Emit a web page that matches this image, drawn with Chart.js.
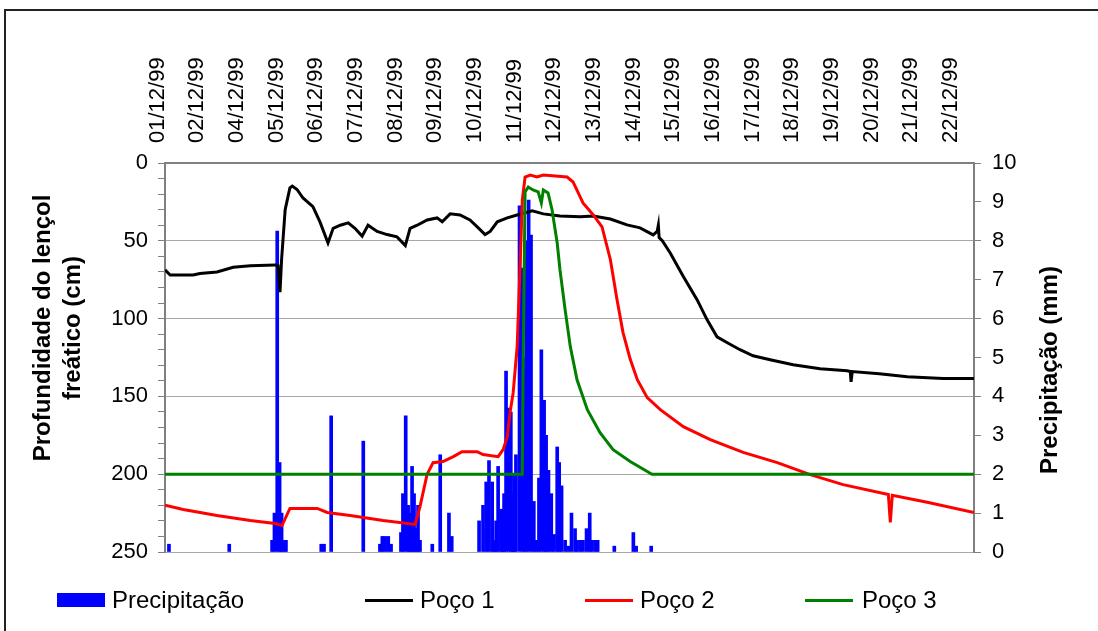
<!DOCTYPE html>
<html lang="pt">
<head>
  <meta charset="UTF-8" />
  <title>Profundidade do lençol freático e precipitação</title>
  <script src="https://cdn.jsdelivr.net/npm/chart.js"></script>
  <style>
    body {
      margin: 0;
      background: #fff;
      font-family: 'Liberation Sans', Arial, sans-serif;
    }
    .wrap {
      position: relative;
      width: 1098px;
      height: 631px;
      overflow: hidden;
    }
    .frame {
      position: absolute;
      left: 4px;
      top: 9px;
      width: 1200px;
      height: 800px;
      border-left: 2px solid #222;
      border-top: 2px solid #222;
    }
    canvas { position: absolute; left: 0; top: 0; }
    .legend span { position: absolute; }
    .legend .txt {
      top: 588px;
      font-size: 24px;
      line-height: 24px;
      color: #000;
    }
    .legend .box { top: 593px; width: 48px; height: 14px; background: #0000ff; }
    .legend .ln { top: 599px; width: 48px; height: 3px; }
  </style>
</head>
<body>
<div class="wrap">
  <div class="frame"></div>
  <canvas id="chart" width="1098" height="631"></canvas>
  <div class="legend">
    <span class="box" style="left:57px"></span>
    <span class="txt" style="left:112px">Precipitação</span>
    <span class="ln" style="left:365px;background:#000"></span>
    <span class="txt" style="left:420px">Poço 1</span>
    <span class="ln" style="left:585px;background:#ff0000"></span>
    <span class="txt" style="left:640px">Poço 2</span>
    <span class="ln" style="left:805px;background:#008000"></span>
    <span class="txt" style="left:862px">Poço 3</span>
  </div>
</div>

<script>
  // top axis labels (one per day slot, 03/12 is not labelled in the original)
  const dateLabels = ['01/12/99', '02/12/99', '04/12/99', '05/12/99', '06/12/99', '07/12/99',
    '08/12/99', '09/12/99', '10/12/99', '11/12/99', '12/12/99', '13/12/99', '14/12/99',
    '15/12/99', '16/12/99', '17/12/99', '18/12/99', '19/12/99', '20/12/99', '21/12/99', '22/12/99'];

  // x is in label slots (0 = 01/12/99)
  const poco1X = [0.20, 0.33, 0.91, 1.08, 1.51, 1.92, 2.35, 2.98, 3.05, 3.10, 3.14, 3.23, 3.35, 3.41,
    3.53, 3.68, 3.93, 4.11, 4.31, 4.44, 4.62, 4.82, 4.99, 5.17, 5.32, 5.55, 5.80, 6.05, 6.26, 6.38,
    6.56, 6.81, 7.06, 7.19, 7.39, 7.64, 7.89, 8.10, 8.27, 8.40, 8.58, 8.83, 9.08, 9.46, 9.74, 10.16,
    10.67, 11.00, 11.43, 11.85, 12.18, 12.51, 12.61, 12.64, 12.66, 12.74, 12.94, 13.27, 13.62, 13.87,
    14.12, 14.38, 14.70, 15.03, 15.46, 16.04, 16.72, 17.40, 17.48, 17.50, 17.53, 18.21, 18.92, 19.82, 20.60];
  const poco1Y = [68.7, 72, 72, 71, 70, 67, 66, 65.5, 66, 83, 62, 30, 16, 14.8,
    17, 22.5, 28, 38, 51.4, 42, 40, 38.5, 42, 47, 40, 44, 46, 47.5, 53, 42,
    40, 36.6, 35.3, 37.8, 32.7, 33.4, 36.6, 41.7, 46, 44, 37.8, 35.3, 33.4, 30.8, 32.7, 34,
    34.5, 34, 36, 39.8, 41.7, 46.2, 44, 40, 48, 50, 57.8, 73, 88, 100.8,
    111.7, 115.5, 120, 123.9, 126.4, 129.6, 132.2, 133.5, 134, 140.6, 134, 135.4, 137.3, 138.5, 138.5];

  const poco2X = [0.20, 0.66, 1.51, 2.35, 2.98, 3.15, 3.35, 4.04, 4.29, 4.87, 5.70, 6.51, 6.63, 6.81,
    6.96, 7.21, 7.47, 7.69, 8.07, 8.22, 8.60, 8.73, 8.83, 8.90, 8.98, 9.08, 9.16, 9.21, 9.28, 9.41,
    9.58, 9.74, 10.34, 10.49, 10.74, 11.00, 11.22, 11.43, 11.60, 11.75, 11.93, 12.11, 12.36, 12.69,
    13.27, 13.95, 14.78, 15.64, 16.47, 17.30, 18.44, 18.49, 18.54, 19.42, 20.60];
  const poco2Y = [220, 222.7, 226.6, 229.8, 231.7, 233, 222, 222, 224.6, 226.6, 229.8, 232.3, 220.8, 200,
    192.6, 191.9, 188.7, 185.5, 185.5, 187.4, 188.7, 184, 176, 160.5, 147.6, 118, 62, 23.7, 9, 7.7,
    9, 7.7, 9, 12.2, 25.7, 33.4, 41, 62, 88, 109, 126, 139.3, 150.8, 158.5,
    169.4, 177.8, 186, 192.6, 200.3, 206.7, 213, 231, 213.5, 218, 224.6];

  const poco3X = [0.20, 9.21, 9.23, 9.28, 9.36, 9.48, 9.61, 9.69, 9.74, 9.86, 9.96, 10.09, 10.16,
    10.29, 10.42, 10.59, 10.85, 11.17, 11.50, 11.93, 12.48, 20.60];
  const poco3Y = [200, 200, 130, 18.6, 15.4, 17.3, 18.6, 25.7, 17.3, 19.3, 30, 51.4, 68.7,
    94.4, 118, 139.3, 158.5, 173.3, 184.2, 191.9, 200, 200];

  const precipX = [0.30, 1.82, 2.90, 2.96, 3.03, 3.09, 3.14, 3.20, 3.25, 4.14, 4.21, 4.39, 5.20, 5.62,
    5.68, 5.75, 5.83, 5.90, 6.15, 6.20, 6.27, 6.33, 6.38, 6.43, 6.48, 6.53, 6.58, 6.63, 6.94, 7.14,
    7.36, 7.43, 8.12, 8.22, 8.30, 8.37, 8.45, 8.50, 8.55, 8.60, 8.68, 8.71, 8.75, 8.80, 8.87, 8.92,
    8.97, 9.00, 9.05, 9.14, 9.21, 9.26, 9.31, 9.37, 9.43, 9.50, 9.56, 9.63, 9.69, 9.76, 9.81, 9.87,
    9.94, 10.01, 10.09, 10.14, 10.20, 10.29, 10.37, 10.45, 10.54, 10.59, 10.67, 10.74, 10.83, 10.91,
    10.97, 11.06, 11.11, 11.53, 12.01, 12.08, 12.46];
  const precipY = [0.2, 0.2, 0.3, 1.0, 8.25, 2.3, 1.0, 0.3, 0.3, 0.2, 0.2, 3.5, 2.85, 0.2,
    0.4, 0.4, 0.4, 0.2, 0.5, 1.5, 3.5, 1.2, 1.0, 2.2, 1.5, 0.6, 1.2, 0.3, 0.2, 2.5,
    1.0, 0.4, 0.8, 1.2, 1.8, 2.35, 1.8, 0.3, 0.8, 2.2, 1.1, 0.3, 1.5, 4.65, 3.7, 3.6,
    1.5, 2.0, 2.5, 8.9, 7.3, 5.0, 8.0, 9.05, 8.15, 1.3, 0.3, 1.9, 5.2, 3.9, 3.0, 2.1,
    1.5, 0.45, 2.7, 2.3, 1.7, 0.3, 0.15, 1.0, 0.6, 0.3, 0.3, 0.3, 0.6, 1.0,
    0.3, 0.3, 0.3, 0.15, 0.5, 0.15, 0.15];

  const pts = (xs, ys) => xs.map((x, i) => ({ x: x, y: ys[i] }));

  Chart.defaults.font.family = "'Liberation Sans', Arial, sans-serif";
  Chart.defaults.color = '#000';

  const axisGray = '#808080';
  const gridGray = '#a8a8a8';

  // axis titles drawn by hand so they can sit where the original has them
  const axisTitles = {
    id: 'axisTitles',
    afterDraw(chart) {
      const { ctx, chartArea } = chart;
      ctx.save();
      ctx.font = "bold 24px 'Liberation Sans', Arial, sans-serif";
      ctx.fillStyle = '#000';
      ctx.textAlign = 'center';
      ctx.textBaseline = 'middle';

      ctx.save();
      ctx.translate(chartArea.left - 122, chartArea.top + 165);
      ctx.rotate(-Math.PI / 2);
      ctx.fillText('Profundidade do lençol', 0, 0);
      ctx.fillText('freático (cm)', 0, 30);
      ctx.restore();

      ctx.translate(chartArea.right + 76, chartArea.top + 207);
      ctx.rotate(-Math.PI / 2);
      ctx.fillText('Precipitação (mm)', 0, 0);
      ctx.restore();
    }
  };

  new Chart(document.getElementById('chart'), {
    type: 'line',
    data: {
      datasets: [
        {
          type: 'bar',
          label: 'Precipitação',
          data: pts(precipX, precipY),
          yAxisID: 'y2',
          backgroundColor: '#0000ff',
          barThickness: 3,
          order: 4
        },
        {
          label: 'Poço 1',
          data: pts(poco1X, poco1Y),
          yAxisID: 'y',
          borderColor: '#000000',
          borderWidth: 3,
          pointRadius: 0,
          order: 3
        },
        {
          label: 'Poço 2',
          data: pts(poco2X, poco2Y),
          yAxisID: 'y',
          borderColor: '#ff0000',
          borderWidth: 3,
          pointRadius: 0,
          order: 2
        },
        {
          label: 'Poço 3',
          data: pts(poco3X, poco3Y),
          yAxisID: 'y',
          borderColor: '#008000',
          borderWidth: 3,
          pointRadius: 0,
          order: 1
        }
      ]
    },
    options: {
      responsive: false,
      animation: false,
      devicePixelRatio: 1,
      layout: { padding: { left: 0, right: 0, top: 0, bottom: 79 } },
      plugins: {
        legend: { display: false },
        tooltip: { enabled: false }
      },
      scales: {
        x: {
          type: 'linear',
          position: 'top',
          offset: false,
          min: 0.2,
          max: 20.6,
          afterBuildTicks: s => { s.ticks = dateLabels.map((_, i) => ({ value: i })); },
          afterFit: s => { s.height = 163; },
          ticks: {
            autoSkip: false,
            minRotation: 90,
            maxRotation: 90,
            padding: 20,
            labelOffset: 27,
            font: { size: 22 },
            callback: (v, i) => dateLabels[i]
          },
          grid: { display: true, drawOnChartArea: false, drawTicks: false, offset: false },
          border: { color: axisGray, width: 2 }
        },
        y: {
          position: 'left',
          reverse: true,
          min: 0,
          max: 250,
          afterFit: s => { s.width = 165; },
          ticks: {
            stepSize: 10,
            autoSkip: false,
            padding: 10,
            font: { size: 22 },
            callback: v => (v % 50 === 0 ? v : '')
          },
          grid: {
            color: c => (c.tick && c.tick.value % 50 === 0 ? gridGray : 'rgba(0,0,0,0)'),
            lineWidth: 1,
            tickColor: axisGray,
            tickLength: 7
          },
          border: { color: axisGray, width: 2 }
        },
        y2: {
          position: 'right',
          min: 0,
          max: 10,
          afterFit: s => { s.width = 124; },
          ticks: {
            stepSize: 1,
            autoSkip: false,
            padding: 11,
            font: { size: 22 }
          },
          grid: {
            drawOnChartArea: false,
            tickColor: axisGray,
            tickLength: 7
          },
          border: { color: axisGray, width: 2 }
        }
      }
    },
    plugins: [axisTitles]
  });
</script>
</body>
</html>
